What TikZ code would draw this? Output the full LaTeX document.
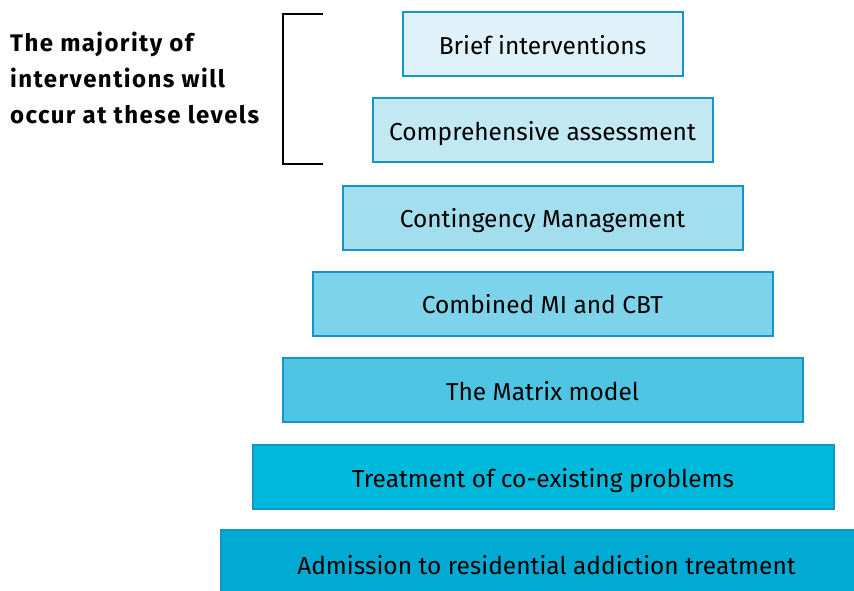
\documentclass[tikz,border=0pt]{standalone}
\usepackage{fontspec}
\setmainfont{Fira Sans}
\newfontfamily\labfont[LetterSpace=6]{Fira Sans}
\definecolor{bord}{HTML}{1495C8}
\definecolor{f1}{HTML}{DFF2F9}
\definecolor{f2}{HTML}{C1E8F3}
\definecolor{f3}{HTML}{A3DEEE}
\definecolor{f4}{HTML}{7DD3EA}
\definecolor{f5}{HTML}{4EC6E3}
\definecolor{f6}{HTML}{00BADD}
\definecolor{f7}{HTML}{00AAD2}
\tikzset{
  lvl/.style={draw=bord, line width=2pt, minimum height=64pt, inner sep=0pt, text height=24pt, text depth=4pt, font=\fontsize{24.5}{28}\selectfont, text=black},
  brk/.style={draw=black, line width=2pt},
}
\begin{document}
\begin{tikzpicture}[x=1pt,y=-1pt]
\useasboundingbox (0,0) rectangle (854,591);
\node[lvl, fill=f1, minimum width=280pt] (b1) at (542.5,44.5) {Brief interventions};
\node[lvl, fill=f2, minimum width=340pt] (b2) at (542.5,130.5) {Comprehensive assessment};
\node[lvl, fill=f3, minimum width=400pt] (b3) at (542.5,217.5) {Contingency Management};
\node[lvl, fill=f4, minimum width=460pt] (b4) at (542.5,303.5) {Combined MI and CBT};
\node[lvl, fill=f5, minimum width=520pt] (b5) at (542.5,390) {The Matrix model};
\node[lvl, fill=f6, minimum width=581pt] (b6) at (543,477) {Treatment of co-existing problems};
\node[lvl, fill=f7, minimum width=642pt, minimum height=66pt] (b7) at (542,563) {};
\node[font=\fontsize{24.5}{28}\selectfont, inner sep=0pt, anchor=base] (t7) at (546.5,574) {Admission to residential addiction treatment};
\coordinate (kt) at (323,14);
\coordinate (kb) at (323,164);
\draw[brk] (kt) -- (283,14) -- (283,164) -- (kb);
\node[anchor=base west, align=left, inner sep=0pt, font=\labfont\bfseries\fontsize{24}{36}\selectfont] (lab) at (10,123.5) {The majority of\\interventions will\\occur at these levels};
\end{tikzpicture}
\end{document}
